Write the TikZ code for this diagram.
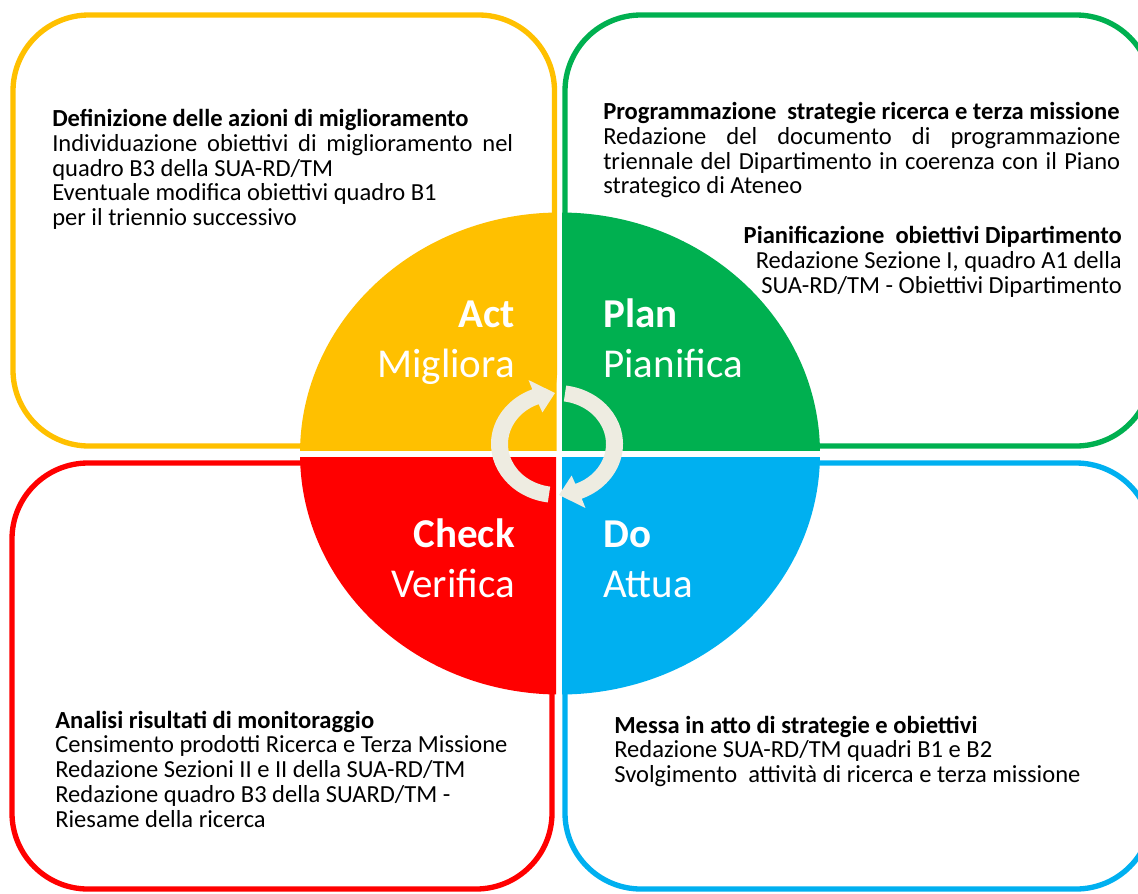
\documentclass[tikz,border=0pt]{standalone}
\usepackage{fontspec}
\setmainfont{Carlito}
\usetikzlibrary{positioning}

\definecolor{actyellow}{HTML}{FFC000}
\definecolor{plangreen}{HTML}{00B050}
\definecolor{checkred}{HTML}{FF0000}
\definecolor{doblue}{HTML}{00B0F0}
\definecolor{cyclegray}{HTML}{EEECE1}

\newlength\pxu
\setlength\pxu{0.75pt}

\tikzset{
  box/.style={draw=#1, line width=4pt, rounded corners=57pt, fill=white},
  phase/.style={text=white, inner sep=0pt, font=\fontsize{30.75}{36}\selectfont},
  note/.style={inner sep=0pt, align=left, font=\fontsize{18.4}{18.6}\selectfont},
  cyclearrow/.style={fill=cyclegray}
}

\begin{document}
\begin{tikzpicture}[x=0.75pt, y=-0.75pt]
    \useasboundingbox (0,0) rectangle (1138,893);
    % the four boxes
    \draw[box=actyellow] (13,15) rectangle (554.5,446);
    \draw[box=plangreen] (565,15) rectangle (1152,446);
    \draw[box=checkred] (12,463) rectangle (552,889);
    \draw[box=doblue] (565,463) rectangle (1152,889);
    % the four quarters of the wheel
    \foreach \col/\xa/\ya/\xb/\yb in {actyellow/0/0/556.5/450, plangreen/562/0/1138/450,
        checkred/0/457/556/893, doblue/562/457/1138/893}{
        \begin{scope}
            \clip (\xa,\ya) rectangle (\xb,\yb);
            \fill[\col] (560,453.5) ellipse [x radius=260, y radius=241];
        \end{scope}
    }
    % cycle arrows
    \fill[cyclearrow, shift={(557,444)}] (98:66 and 59) arc[start angle=98, end angle=248, x radius=66, y radius=59]
        -- (248:76 and 69) -- (268:57.5 and 51) -- (248:39 and 34)
        -- (248:49 and 43) arc[start angle=248, end angle=98, x radius=49, y radius=43] -- cycle;
    \fill[cyclearrow, shift={(557,444)}] (278:66 and 59) arc[start angle=278, end angle=428, x radius=66, y radius=59]
        -- (428:76 and 69) -- (448:57.5 and 51) -- (428:39 and 34)
        -- (428:49 and 43) arc[start angle=428, end angle=278, x radius=49, y radius=43] -- cycle;
    % phase names
    \node[phase, anchor=base east] (act) at (515,327) {\bfseries Act};
    \node[phase, anchor=base east] (migliora) at (515,377) {Migliora};
    \node[phase, anchor=base west] (plan) at (603,327) {\bfseries Plan};
    \node[phase, anchor=base west] (pianifica) at (603,377) {Pianifica};
    \node[phase, anchor=base east] (check) at (515,547) {\bfseries Check};
    \node[phase, anchor=base east] (verifica) at (515,597) {Verifica};
    \node[phase, anchor=base west] (do) at (603,547) {\bfseries Do};
    \node[phase, anchor=base west] (attua) at (603,597) {Attua};
    % notes
    \node[note, anchor=north west] (actnote) at (52,109) {\textbf{Definizione delle azioni di miglioramento}\\
        \makebox[461\pxu][s]{Individuazione obiettivi di miglioramento nel}\\
        quadro B3 della SUA-RD/TM\\
        Eventuale modifica obiettivi quadro B1\\
        per il triennio successivo};
    \node[note, anchor=north west] (plannote) at (603,102) {\textbf{Programmazione\ \ strategie ricerca e terza missione}\\
        \makebox[517\pxu][s]{Redazione del documento di programmazione}\\
        \makebox[517\pxu][s]{triennale del Dipartimento in coerenza con il Piano}\\
        strategico di Ateneo};
    \node[note, align=right, anchor=north east] (plangoal) at (1122,226) {\textbf{Pianificazione\ \ obiettivi Dipartimento}\\
        Redazione Sezione I, quadro A1 della\\
        SUA-RD/TM - Obiettivi Dipartimento};
    \node[note, anchor=north west] (checknote) at (55,710.5) {\textbf{Analisi risultati di monitoraggio}\\
        Censimento prodotti Ricerca e Terza Missione\\
        Redazione Sezioni II e II della SUA-RD/TM\\
        Redazione quadro B3 della SUARD/TM -\\
        Riesame della ricerca};
    \node[note, anchor=north west] (donote) at (614,715.5) {\textbf{Messa in atto di strategie e obiettivi}\\
        Redazione SUA-RD/TM quadri B1 e B2\\
        Svolgimento\ \ attività di ricerca e terza missione};
\end{tikzpicture}
\end{document}
